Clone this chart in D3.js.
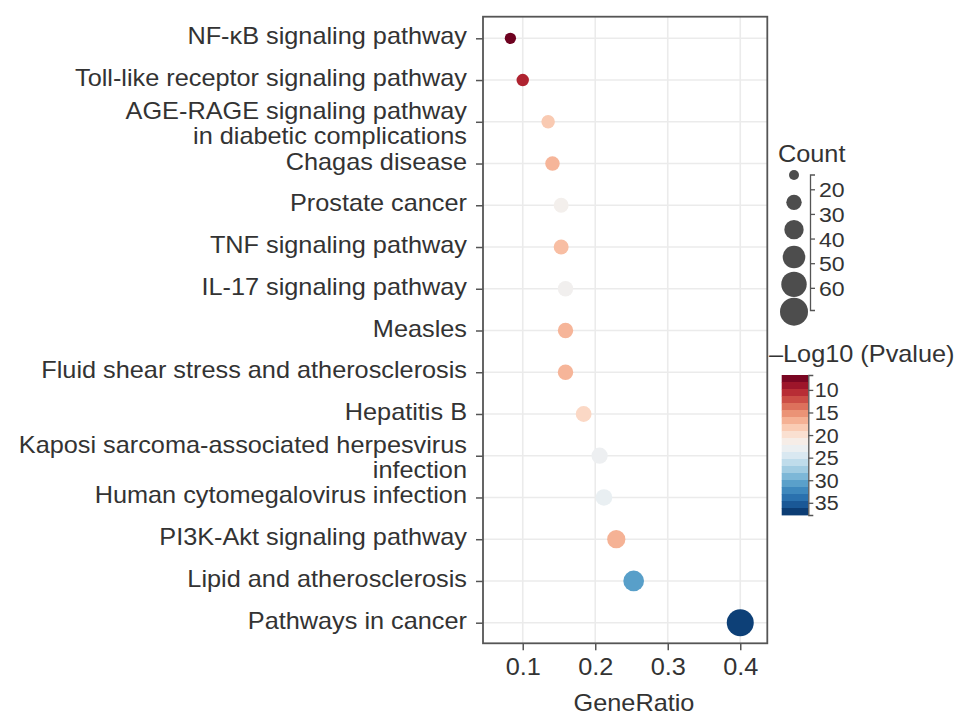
<!DOCTYPE html>
<html>
<head>
<meta charset="utf-8">
<script src="https://cdn.jsdelivr.net/npm/d3@7"></script>
<style>
  body { margin: 0; background: #fff; }
  text { font-family: "Liberation Sans", Arial, Helvetica, sans-serif; }
</style>
</head>
<body>
<div id="chart"></div>
<script>
// ---- data ----
var pathways = [
  "NF-κB signaling pathway",
  "Toll-like receptor signaling pathway",
  "AGE-RAGE signaling pathway\nin diabetic complications",
  "Chagas disease",
  "Prostate cancer",
  "TNF signaling pathway",
  "IL-17 signaling pathway",
  "Measles",
  "Fluid shear stress and atherosclerosis",
  "Hepatitis B",
  "Kaposi sarcoma-associated herpesvirus\ninfection",
  "Human cytomegalovirus infection",
  "PI3K-Akt signaling pathway",
  "Lipid and atherosclerosis",
  "Pathways in cancer"
];
var geneRatio = [0.083, 0.100, 0.135, 0.141, 0.153, 0.153, 0.159, 0.159, 0.159, 0.184, 0.206, 0.212, 0.229, 0.253, 0.400];
var geneCount = [12, 14, 16, 18, 19, 19, 20, 20, 20, 21, 22, 23, 27, 34, 56];
var negLogP   = [7, 10, 18.2, 17, 22, 17.5, 22.3, 17, 17, 19.2, 22.8, 23.2, 16.8, 30.8, 36.8];

var xTicks = [0.1, 0.2, 0.3, 0.4];
var countTicks = [20, 30, 40, 50, 60];
var countLegendValues = [10, 20, 30, 40, 50, 60];
var colorTicks = [10, 15, 20, 25, 30, 35];

// font is a bit wider than Liberation Sans, so text gets a small horizontal stretch
var FS = 23, SX = 1.1, TXT = "#333", AX = "#555";

var width = 969, height = 724;
var panel = {left: 483, top: 16.7, right: 767.3, bottom: 643.3};

var svg = d3.select("#chart").append("svg")
    .attr("width", width)
    .attr("height", height)
    .style("background", "#fff");

var xScale = d3.scaleLinear().domain([0.0452, 0.4373]).range([panel.left, panel.right]);
var yScale = d3.scalePoint().domain(pathways).range([38.3, 622.7]);
var rScale = d3.scaleRadial().domain([10, 60]).range([5, 14]);
var colorScale = d3.scaleSequential(d3.interpolateRdBu).domain([6.7, 37.7]);

var rows = pathways.map(function(p, i) {
    return {name: p, ratio: geneRatio[i], count: geneCount[i], p: negLogP[i]};
});

// helper for stretched text
function addText(g, x, y, str, anchor, size) {
    return g.append("text")
        .attr("transform", "translate(" + x + "," + y + ") scale(" + SX + ",1)")
        .attr("text-anchor", anchor || "start")
        .attr("font-size", size || FS)
        .attr("fill", TXT)
        .text(str);
}

// gridlines
var grid = svg.append("g");
grid.selectAll("line.v").data(xTicks).enter().append("line")
    .attr("x1", function(d) { return xScale(d); })
    .attr("x2", function(d) { return xScale(d); })
    .attr("y1", panel.top).attr("y2", panel.bottom)
    .attr("stroke", "#ebebeb").attr("stroke-width", 1.6);
grid.selectAll("line.h").data(pathways).enter().append("line")
    .attr("x1", panel.left).attr("x2", panel.right)
    .attr("y1", function(d) { return yScale(d); })
    .attr("y2", function(d) { return yScale(d); })
    .attr("stroke", "#ebebeb").attr("stroke-width", 1.6);

// dots
svg.append("g").selectAll("circle").data(rows).enter().append("circle")
    .attr("cx", function(d) { return xScale(d.ratio); })
    .attr("cy", function(d) { return yScale(d.name); })
    .attr("r", function(d) { return rScale(d.count); })
    .attr("fill", function(d) { return colorScale(d.p); });

// x axis
var xAxis = svg.append("g")
    .attr("transform", "translate(0," + panel.bottom + ")")
    .style("color", AX)
    .call(d3.axisBottom(xScale).tickValues(xTicks).tickSize(7).tickSizeOuter(0));
xAxis.select(".domain").remove();
xAxis.selectAll(".tick line").attr("stroke-width", 1.5);
xAxis.selectAll(".tick text").remove();
xAxis.selectAll(".tick").each(function(d) {
    addText(d3.select(this), 0, 32, d3.format(".1f")(d), "middle");
});
addText(svg, 634, 711, "GeneRatio", "middle");

// y axis
var yAxis = svg.append("g")
    .attr("transform", "translate(" + panel.left + ",0)")
    .style("color", AX)
    .call(d3.axisLeft(yScale).tickSize(7).tickSizeOuter(0).tickFormat(""));
yAxis.select(".domain").remove();
yAxis.selectAll(".tick line").attr("stroke-width", 1.5);
yAxis.selectAll(".tick").each(function(d) {
    var lines = d.split("\n");
    var g = d3.select(this);
    if (lines.length == 1) {
        addText(g, -16, 5.5, lines[0], "end");
    } else {
        addText(g, -16, -3.5, lines[0], "end");
        addText(g, -16, 21.5, lines[1], "end");
    }
});

// panel border
svg.append("rect")
    .attr("x", panel.left).attr("y", panel.top)
    .attr("width", panel.right - panel.left)
    .attr("height", panel.bottom - panel.top)
    .attr("fill", "none").attr("stroke", AX).attr("stroke-width", 1.8);

// ---- Count legend ----
var sizeLeg = svg.append("g");
addText(sizeLeg, 778, 161.5, "Count");
var legY = d3.scalePoint().domain(countLegendValues).range([175, 311.7]);
sizeLeg.selectAll("circle").data(countLegendValues).enter().append("circle")
    .attr("cx", 794)
    .attr("cy", function(d) { return legY(d); })
    .attr("r", function(d) { return rScale(d); })
    .attr("fill", "#4d4d4d");
var countAxisScale = d3.scaleLinear().domain([14, 69]).range([174.5, 310]);
var countAxis = sizeLeg.append("g")
    .attr("transform", "translate(810,0)")
    .style("color", AX)
    .call(d3.axisRight(countAxisScale).tickValues(countTicks).tickSize(5).tickSizeOuter(5));
countAxis.selectAll("path, line").attr("stroke-width", 1.3);
countAxis.selectAll(".tick text").remove();
countAxis.selectAll(".tick").each(function(d) {
    addText(d3.select(this), 9, 7.5, d, "start", 21);
});

// ---- colour legend ----
var colLeg = svg.append("g");
addText(colLeg, 769, 361.5, "–Log10 (Pvalue)");
var cbScale = d3.scaleLinear().domain([6.7, 37.7]).range([375, 515]);
var nBands = 20;
var bandVals = d3.range(nBands).map(function(i) {
    return 6.7 + (37.7 - 6.7) * (i + 0.5) / nBands;
});
var bandH = (515 - 375) / nBands;
colLeg.selectAll("rect").data(bandVals).enter().append("rect")
    .attr("x", 781.7)
    .attr("y", function(d) { return cbScale(d) - bandH / 2; })
    .attr("width", 26.6)
    .attr("height", bandH + 0.4)
    .attr("fill", function(d) { return colorScale(d); });
var cbAxis = colLeg.append("g")
    .attr("transform", "translate(808.3,0)")
    .style("color", AX)
    .call(d3.axisRight(cbScale).tickValues(colorTicks).tickSize(5).tickSizeOuter(5));
cbAxis.selectAll("path, line").attr("stroke-width", 1.3);
cbAxis.selectAll(".tick text").remove();
cbAxis.selectAll(".tick").each(function(d) {
    addText(d3.select(this), 6.5, 7, d, "start", 19.5);
});
</script>
</body>
</html>
